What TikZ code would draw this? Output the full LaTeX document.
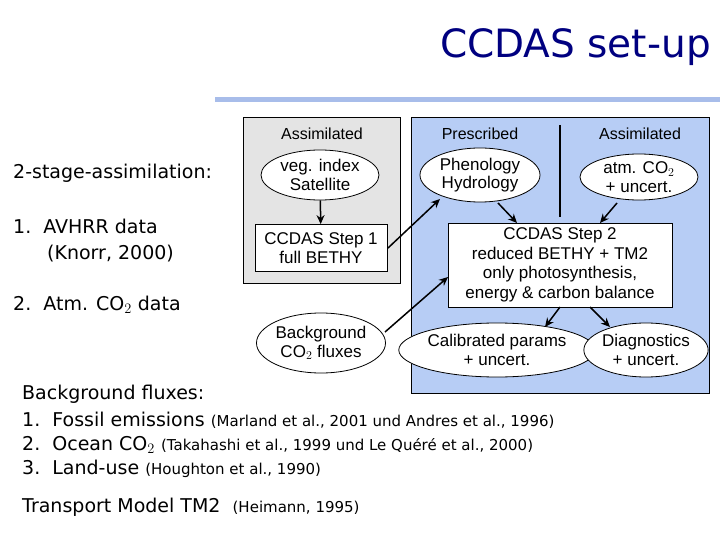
\documentclass[tikz,border=0pt]{standalone}
\usepackage{fontspec}
\setmainfont{DejaVu Sans}
\newfontfamily\diag{Liberation Sans}
\usetikzlibrary{shapes.geometric,arrows.meta}
\definecolor{navy}{HTML}{000080}
\definecolor{bluebg}{HTML}{B7CDF5}
\definecolor{graybg}{HTML}{E4E4E4}
\definecolor{rule}{HTML}{A8BDEA}
\newcommand\smf{\fontsize{15}{17}\selectfont}
\begin{document}
\begin{tikzpicture}[x=1pt,y=-1pt,
  ell/.style={ellipse,draw,fill=white,line width=0.8pt,inner sep=0pt,font=\diag\fontsize{17}{18.5}\selectfont,align=center},
  bx/.style={draw,fill=white,line width=0.8pt,inner sep=0pt,font=\diag\fontsize{17}{19.5}\selectfont,align=center},
  hd/.style={font=\diag\fontsize{16}{17}\selectfont},
  arr/.style={-{Stealth[length=9pt,width=8pt]},line width=1.5pt},
  txt/.style={anchor=west,inner sep=0pt,font=\fontsize{19}{21}\selectfont}]
\useasboundingbox (0,0) rectangle (720,540);
\node[anchor=east,inner sep=0pt,text=navy,font=\fontsize{39}{44}\selectfont] (title) at (711,47) {CCDAS set-up};
\fill[rule] (215,97) rectangle (720,102);
\draw[fill=graybg,line width=0.6pt] (243,117) rectangle (400,283);
\draw[fill=bluebg,line width=0.6pt] (411,117) rectangle (709,393);
\draw[line width=1.5pt] (560,125) -- (560,217);
\node[hd] (h1) at (322,134) {Assimilated};
\node[hd] (h2) at (480,134) {Prescribed};
\node[hd] (h3) at (640,134) {Assimilated};
\node[ell,minimum width=118pt,minimum height=50pt] (veg) at (320,175) {veg. index\\Satellite};
\node[bx,minimum width=132pt,minimum height=47pt] (s1) at (321,248) {CCDAS Step 1\\full BETHY};
\node[ell,minimum width=120pt,minimum height=54pt] (phen) at (480,175) {Phenology\\Hydrology};
\node[ell,minimum width=118pt,minimum height=46pt] (atm) at (639,177) {atm. CO$_2$\\+ uncert.};
\node[bx,minimum width=224pt,minimum height=84pt] (s2) at (560,265) {CCDAS Step 2\\reduced BETHY + TM2\\only photosynthesis,\\energy \& carbon balance};
\node[ell,minimum width=129pt,minimum height=60pt] (bg) at (321,343) {Background\\CO$_2$ fluxes};
\node[ell,minimum width=162pt,minimum height=54pt] (cal) at (497,350) {Calibrated params\\+ uncert.};
\node[ell,minimum width=118pt,minimum height=54pt] (dia) at (646,350) {Diagnostics\\+ uncert.};
\coordinate (p1) at (498,203);
\coordinate (p2) at (517,223);
\coordinate (a1) at (617,203);
\coordinate (a2) at (600,223);
\coordinate (b1) at (385,332);
\coordinate (b2) at (448,277);
\coordinate (c1) at (560,307);
\coordinate (c2) at (545,327);
\coordinate (d1) at (590,307);
\coordinate (d2) at (610,327);
\coordinate (e1) at (388,248);
\coordinate (e2) at (440,199);
\draw[arr] (veg) -- (s1);
\draw[arr] (e1) -- (e2);
\draw[arr] (p1) -- (p2);
\draw[arr] (a1) -- (a2);
\draw[arr] (b1) -- (b2);
\draw[arr] (c1) -- (c2);
\draw[arr] (d1) -- (d2);
\node[txt] (t1) at (13,173) {2-stage-assimilation:};
\node[txt] (t2) at (13,226) {1.\ \ AVHRR data};
\node[txt] (t3) at (47,254) {(Knorr, 2000)};
\node[txt] (t4) at (13,305) {2.\ \ Atm. CO$_2$ data};
\node[txt] (t5) at (22,394) {Background fluxes:};
\node[txt] (t6) at (22,420) {1.\ \ Fossil emissions {\smf (Marland et al., 2001 und Andres et al., 1996)}};
\node[txt] (t7) at (22,445) {2.\ \ Ocean CO$_2$ {\smf (Takahashi et al., 1999 und Le Quéré et al., 2000)}};
\node[txt] (t8) at (22,469) {3.\ \ Land-use {\smf (Houghton et al., 1990)}};
\node[txt] (t9) at (22,507) {Transport Model TM2 \ {\smf (Heimann, 1995)}};
\end{tikzpicture}
\end{document}
